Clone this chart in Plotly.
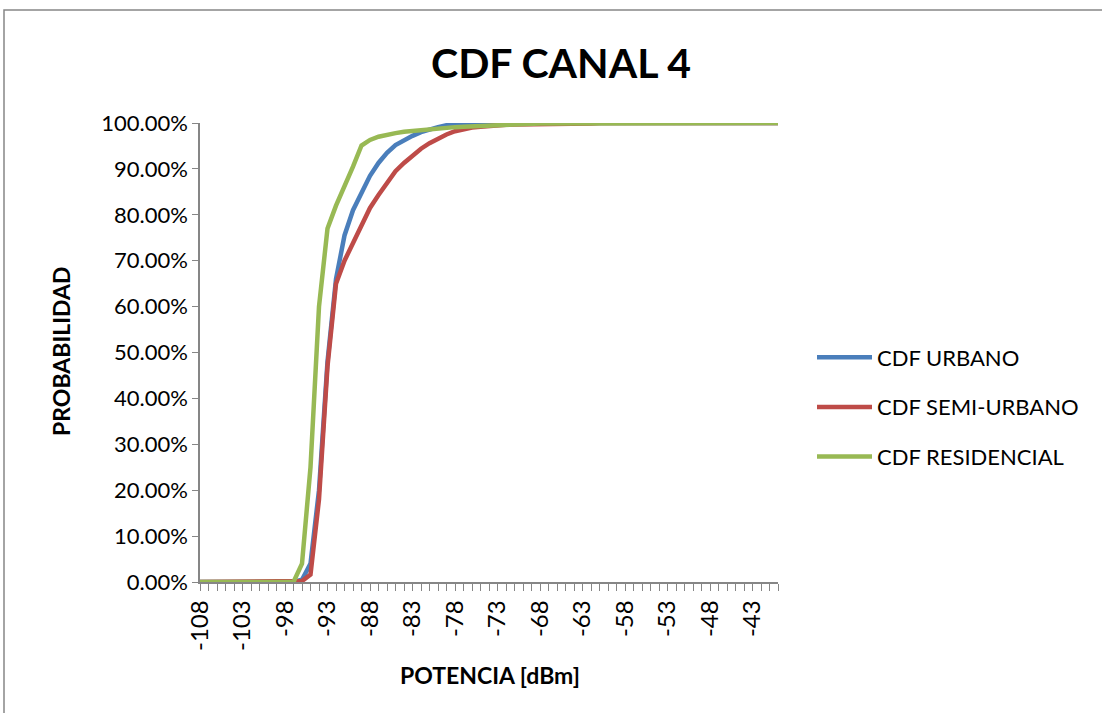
import plotly.graph_objects as go

potencia = [-108, -107, -106, -105, -104, -103, -102, -101, -100, -99, -98, -97,
            -96, -95, -94, -93, -92, -91, -90, -89, -88, -87, -86, -85, -84, -83,
            -82, -81, -80, -79, -78, -77, -76, -75, -74, -73, -72, -71, -70, -69,
            -68, -67, -66, -65, -64, -63, -62, -61, -60, -59, -58, -57, -56, -55,
            -54, -53, -52, -51, -50, -49, -48, -47, -46, -45, -44, -43, -42, -41, -40]

# -108 .. -97
cdf_urbano = [0, 0, 0, 0, 0, 0, 0, 0, 0, 0, 0, 0,
              # -96 .. -77
              0.005, 0.04, 0.20, 0.48, 0.66, 0.755, 0.81, 0.85, 0.885, 0.913,
              0.935, 0.952, 0.963, 0.972, 0.98, 0.986, 0.991, 0.995, 0.998, 0.999,
              # -76 .. -40
              1, 1, 1, 1, 1, 1, 1, 1, 1, 1,
              1, 1, 1, 1, 1, 1, 1, 1, 1, 1,
              1, 1, 1, 1, 1, 1, 1, 1, 1, 1,
              1, 1, 1, 1, 1, 1, 1]

cdf_semi_urbano = [0, 0, 0, 0, 0, 0, 0, 0, 0, 0, 0, 0,
                   0.002, 0.016, 0.18, 0.47, 0.65, 0.70, 0.74, 0.78, 0.815, 0.843,
                   0.87, 0.895, 0.913, 0.93, 0.944, 0.956, 0.966, 0.975, 0.982, 0.987,
                   0.99, 0.992, 0.994, 0.995, 0.996, 0.997, 0.997, 0.998, 0.998, 0.998,
                   0.999, 0.999, 0.999, 0.999, 0.999, 1, 1, 1, 1, 1,
                   1, 1, 1, 1, 1, 1, 1, 1, 1, 1,
                   1, 1, 1, 1, 1, 1, 1]

cdf_residencial = [0, 0, 0, 0, 0, 0, 0, 0, 0, 0, 0, 0,
                   0.04, 0.25, 0.60, 0.77, 0.82, 0.86, 0.905, 0.951, 0.963, 0.97,
                   0.975, 0.978, 0.981, 0.983, 0.985, 0.987, 0.988, 0.99, 0.991, 0.992,
                   0.993, 0.994, 0.995, 0.996, 0.997, 0.997, 0.998, 0.998, 0.999, 0.999,
                   0.999, 1, 1, 1, 1, 1, 1, 1, 1, 1,
                   1, 1, 1, 1, 1, 1, 1, 1, 1, 1,
                   1, 1, 1, 1, 1, 1, 1]

for s in (cdf_urbano, cdf_semi_urbano, cdf_residencial):
    assert len(s) == len(potencia), len(s)

x_ticks = [-108, -103, -98, -93, -88, -83, -78, -73, -68, -63, -58, -53, -48, -43]

series = [
    ("CDF URBANO", cdf_urbano, "#4A7EBB"),
    ("CDF SEMI-URBANO", cdf_semi_urbano, "#BE4B48"),
    ("CDF RESIDENCIAL", cdf_residencial, "#98B954"),
]

FONT = "Lato"
W, H = 1102, 713
L, R, T, B = 200, 778, 123, 582

fig = go.Figure()
for i, (name, vals, col) in enumerate(series):
    fig.add_trace(go.Scatter(x=potencia, y=vals, mode="lines", name=name,
                             legendgroup=f"g{i}",
                             line=dict(color=col, width=4.5), cliponaxis=False))

pw, ph = R - L, B - T
def px(x):
    return (x - L) / pw
def py(y):
    return (B - y) / ph

fig.update_layout(
    width=W, height=H,
    margin=dict(l=L, r=W - R, t=T, b=H - B),
    paper_bgcolor="white", plot_bgcolor="white",
    font=dict(family=FONT, size=22, color="black"),
    title=dict(text="<b>CDF CANAL 4</b>", x=561 / W, xref="container", xanchor="center",
               y=1 - 64 / H, yref="container", yanchor="middle",
               font=dict(family=FONT, size=41, color="black")),
    showlegend=True,
    legend=dict(x=px(812), xanchor="left", y=py(407), yanchor="middle",
                font=dict(family=FONT, size=22), tracegroupgap=18,
                itemwidth=55, bgcolor="rgba(0,0,0,0)"),
    xaxis=dict(range=[-108, -40], tickmode="array", tickvals=x_ticks,
               ticktext=[str(v) for v in x_ticks], tickangle=-90,
               showgrid=False, zeroline=False, showline=True, linecolor="#868686",
               linewidth=1.5, ticks="outside", ticklen=7, tickcolor="#868686",
               tickfont=dict(family=FONT, size=24),
               minor=dict(dtick=1, ticks="outside", ticklen=7, tickcolor="#868686",
                          showgrid=False)),
    yaxis=dict(range=[0, 1], dtick=0.1, tick0=0, tickformat=".2%",
               showgrid=False, zeroline=False, showline=True, linecolor="#868686",
               linewidth=1.5, ticks="outside", ticklen=6, tickcolor="#868686",
               tickfont=dict(family=FONT, size=22)),
    shapes=[dict(type="rect", xref="paper", yref="paper",
                 x0=px(4), x1=px(1130), y0=py(740), y1=py(10),
                 line=dict(color="#868686", width=1.5), fillcolor="rgba(0,0,0,0)",
                 layer="below")],
    annotations=[
        dict(text="<b>POTENCIA [dBm]</b>", x=px(490), y=py(675), xref="paper", yref="paper",
             showarrow=False, xanchor="center", yanchor="middle",
             font=dict(family=FONT, size=23)),
        dict(text="<b>PROBABILIDAD</b>", x=px(61), y=py(352), xref="paper", yref="paper",
             showarrow=False, xanchor="center", yanchor="middle", textangle=-90,
             font=dict(family=FONT, size=23)),
    ],
)

fig.write_html("out.html", config={"displayModeBar": False},
               post_script="document.body.style.margin='0';")
